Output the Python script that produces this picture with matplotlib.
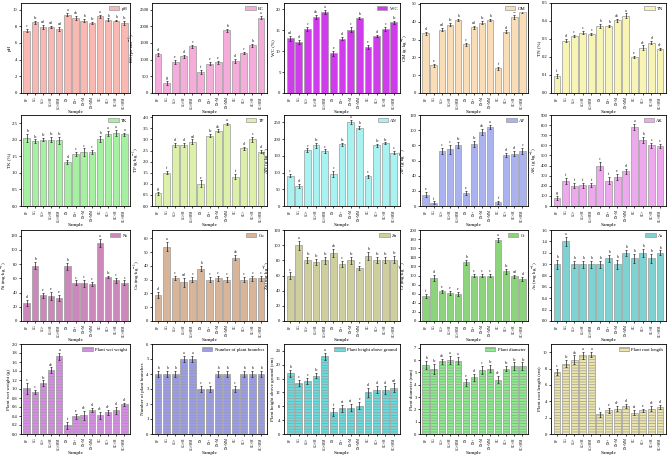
import matplotlib
matplotlib.use("Agg")
import matplotlib.pyplot as plt
import numpy as np

plt.rcParams['font.family'] = ['Liberation Serif', 'DejaVu Serif']
plt.rcParams['mathtext.fontset'] = 'stix'
plt.rcParams['hatch.color'] = 'white'
plt.rcParams['hatch.linewidth'] = 0.5

samples = ["BF", "CG", "CG+", "CG+M", "CG+MM", "DS", "DS+", "DS+M", "DS+MM",
           "GC", "GC+", "GC+M", "GC+MM"]

# ---- Row 1 ----
ph_val = [7.5, 8.5, 7.9, 7.9, 7.7, 9.4, 9.0, 8.7, 8.4, 9.2, 8.8, 8.7, 8.4]
ph_err = [0.2, 0.2, 0.25, 0.15, 0.2, 0.2, 0.2, 0.2, 0.15, 0.2, 0.15, 0.1, 0.2]
ph_let = ["c", "bc", "cd", "cd", "cd", "a", "ab", "b", "bc", "a", "b", "b", "bc"]

ec_val = [1160, 290, 930, 1100, 1400, 630, 880, 920, 1880, 960, 1200, 1430, 2260]
ec_err = [40, 60, 50, 40, 50, 70, 40, 40, 40, 50, 40, 40, 40]
ec_let = ["d", "g", "e", "d", "c", "f", "e", "e", "b", "d", "c", "b", "a"]

wc_val = [13.1, 12.2, 15.3, 18.2, 19.4, 9.5, 13.0, 15.1, 17.9, 11.0, 13.6, 15.3, 16.9]
wc_err = [0.6, 0.5, 0.4, 0.5, 0.5, 0.6, 0.3, 0.6, 0.3, 0.4, 0.3, 0.4, 0.4]
wc_let = ["cd", "d", "c", "ab", "a", "e", "d", "c", "b", "e", "d", "c", "bc"]

om_val = [33.5, 15.5, 35.5, 38.3, 41.0, 27.3, 36.8, 39.4, 41.0, 13.8, 34.3, 42.8, 45.5]
om_err = [0.8, 1.0, 0.8, 0.8, 0.8, 0.8, 1.0, 0.8, 0.8, 1.0, 0.8, 1.0, 0.8]
om_let = ["d", "e", "cd", "bc", "b", "c", "cd", "bc", "b", "f", "d", "ab", "a"]

tn_val = [0.095, 0.29, 0.315, 0.335, 0.33, 0.372, 0.372, 0.403, 0.43, 0.20, 0.252, 0.28, 0.245]
tn_err = [0.01, 0.008, 0.006, 0.008, 0.006, 0.01, 0.008, 0.008, 0.012, 0.006, 0.012, 0.01, 0.006]
tn_let = ["f", "d", "c", "c", "c", "b", "b", "ab", "a", "e", "de", "d", "de"]

# ---- Row 2 ----
tk_val = [2.05, 1.95, 2.0, 2.0, 1.98, 1.33, 1.57, 1.62, 1.62, 2.02, 2.19, 2.21, 2.17]
tk_err = [0.12, 0.06, 0.05, 0.08, 0.1, 0.07, 0.05, 0.12, 0.06, 0.1, 0.08, 0.08, 0.05]
tk_let = ["b", "bc", "bc", "bc", "bc", "d", "c", "c", "c", "b", "a", "a", "a"]

tp_val = [0.57, 1.5, 2.75, 2.75, 2.9, 1.0, 3.17, 3.4, 3.68, 1.32, 2.6, 3.0, 2.45]
tp_err = [0.08, 0.06, 0.08, 0.08, 0.1, 0.15, 0.08, 0.05, 0.05, 0.12, 0.08, 0.12, 0.08]
tp_let = ["g", "f", "d", "d", "cd", "e", "bc", "ab", "a", "f", "d", "c", "d"]

an_val = [91, 61, 167, 181, 164, 96, 184, 251, 234, 89, 181, 187, 159]
an_err = [4, 6, 5, 7, 5, 8, 5, 5, 4, 5, 4, 3, 5]
an_let = ["c", "d", "c", "bc", "c", "c", "bc", "a", "b", "c", "bc", "bc", "c"]

ap_val = [15, 4, 72, 75, 80, 17, 82, 97, 104, 5, 67, 69, 72]
ap_err = [3, 2, 4, 6, 4, 3, 4, 4, 3, 2, 3, 3, 4]
ap_let = ["e", "f", "c", "c", "bc", "e", "bc", "ab", "a", "f", "d", "d", "c"]

ak_val = [80, 245, 200, 205, 205, 400, 250, 290, 345, 780, 650, 600, 595]
ak_err = [20, 30, 25, 25, 20, 40, 35, 30, 25, 30, 30, 25, 20]
ak_let = ["g", "f", "f", "f", "f", "c", "f", "e", "d", "a", "b", "c", "c"]

# ---- Row 3 ----
ni_val = [25, 78, 36, 35, 32, 77, 54, 53, 52, 110, 62, 57, 54]
ni_err = [4, 5, 4, 6, 4, 5, 3, 5, 3, 6, 2, 3, 3]
ni_let = ["d", "b", "e", "e", "e", "b", "c", "c", "c", "a", "bc", "c", "c"]

cu_val = [19, 54, 31, 28, 30, 38, 30, 31, 30, 46, 30, 31, 31]
cu_err = [2, 3, 1.5, 3, 2, 2, 2, 2, 2, 2, 2, 2, 2]
cu_let = ["d", "a", "c", "cd", "c", "b", "c", "c", "c", "ab", "c", "c", "c"]

zn_val = [60, 100, 80, 78, 80, 90, 75, 80, 70, 86, 80, 80, 81]
zn_err = [4, 6, 4, 4, 5, 5, 4, 5, 3, 5, 4, 4, 5]
zn_let = ["c", "a", "bc", "bc", "bc", "ab", "c", "bc", "c", "b", "bc", "bc", "bc"]

cr_val = [55, 95, 65, 62, 60, 129, 100, 100, 100, 178, 109, 98, 92]
cr_err = [4, 6, 4, 4, 4, 6, 4, 4, 4, 5, 5, 4, 4]
cr_let = ["f", "d", "e", "e", "e", "b", "c", "c", "c", "a", "bc", "cd", "d"]

as_val = [1.0, 1.4, 1.0, 1.0, 1.0, 1.0, 1.1, 1.0, 1.2, 1.1, 1.2, 1.1, 1.2]
as_err = [0.08, 0.08, 0.06, 0.06, 0.06, 0.06, 0.06, 0.08, 0.05, 0.08, 0.07, 0.08, 0.04]
as_let = ["b", "a", "b", "b", "b", "b", "b", "b", "b", "b", "b", "b", "b"]

# ---- Row 4 ----
ww_val = [1.02, 0.93, 1.13, 1.42, 1.73, 0.19, 0.39, 0.42, 0.53, 0.42, 0.48, 0.53, 0.66]
ww_err = [0.12, 0.05, 0.06, 0.06, 0.08, 0.07, 0.05, 0.1, 0.04, 0.08, 0.05, 0.08, 0.03]
ww_let = ["c", "c", "bc", "ab", "a", "f", "e", "de", "d", "de", "de", "d", "d"]

nb_val = [4, 4, 4, 5, 5, 3, 3, 4, 4, 3, 4, 4, 4]
nb_err = [0.2, 0.2, 0.2, 0.2, 0.2, 0.2, 0.2, 0.2, 0.2, 0.2, 0.2, 0.2, 0.2]
nb_let = ["b", "b", "b", "a", "a", "c", "c", "b", "b", "c", "b", "b", "b"]

ph2_val = [17.5, 14.8, 15.3, 16.9, 22.5, 6.3, 7.4, 7.6, 8.2, 12.0, 12.8, 12.7, 13.4]
ph2_err = [0.9, 0.9, 0.8, 0.8, 1.0, 1.1, 0.9, 1.0, 1.0, 1.3, 1.0, 1.1, 1.2]
ph2_let = ["b", "c", "c", "bc", "a", "f", "ef", "ef", "e", "d", "d", "d", "cd"]

pd_val = [5.6, 5.3, 5.9, 6.0, 5.95, 4.2, 4.6, 5.2, 5.3, 4.4, 5.3, 5.5, 5.5]
pd_err = [0.3, 0.4, 0.2, 0.3, 0.3, 0.3, 0.3, 0.3, 0.3, 0.3, 0.2, 0.3, 0.3]
pd_let = ["b", "bc", "ab", "a", "a", "e", "d", "c", "bc", "de", "bc", "bc", "bc"]

rl_val = [7.6, 8.6, 9.1, 9.6, 9.7, 2.4, 2.9, 3.1, 3.4, 2.6, 2.9, 3.1, 3.3]
rl_err = [0.35, 0.4, 0.5, 0.4, 0.3, 0.3, 0.3, 0.3, 0.25, 0.3, 0.2, 0.3, 0.25]
rl_let = ["c", "bc", "ab", "a", "a", "f", "e", "de", "d", "ef", "e", "de", "d"]

panels = [
    # row 1
    dict(v=ph_val, e=ph_err, l=ph_let, name="pH", yl="pH", c="#F9B9B2", ylim=(0, 10.8), ticks=np.arange(0, 11, 2), fmt="{:.0f}", h=None),
    dict(v=ec_val, e=ec_err, l=ec_let, name="EC", yl="EC (μs·cm$^{-1}$)", c="#F6ACDB", ylim=(0, 2700), ticks=np.arange(0, 2501, 500), fmt="{:.0f}", h=None),
    dict(v=wc_val, e=wc_err, l=wc_let, name="WC", yl="WC (%)", c="#D03CEC", ylim=(0, 21.5), ticks=np.arange(0, 21, 5), fmt="{:.0f}", h=None),
    dict(v=om_val, e=om_err, l=om_let, name="OM", yl="OM (g·kg$^{-1}$)", c="#F8DDB6", ylim=(0, 50.5), ticks=np.arange(0, 51, 10), fmt="{:.0f}", h=None),
    dict(v=tn_val, e=tn_err, l=tn_let, name="TN", yl="TN (%)", c="#F8F4B4", ylim=(0, 0.5), ticks=np.arange(0, 0.51, 0.1), fmt="{:.1f}", h=None),
    # row 2
    dict(v=tk_val, e=tk_err, l=tk_let, name="TK", yl="TK (%)", c="#A6F0A2", ylim=(0, 2.75), ticks=np.arange(0, 2.51, 0.5), fmt="{:.1f}", h=None),
    dict(v=tp_val, e=tp_err, l=tp_let, name="TP", yl="TP (g·kg$^{-1}$)", c="#DDF0AA", ylim=(0, 4.1), ticks=np.arange(0, 4.01, 0.5), fmt="{:.1f}", h=None),
    dict(v=an_val, e=an_err, l=an_let, name="AN", yl="AN (g·kg$^{-1}$)", c="#A8F2F2", ylim=(0, 272), ticks=np.arange(0, 251, 50), fmt="{:.0f}", h=None),
    dict(v=ap_val, e=ap_err, l=ap_let, name="AP", yl="AP (g·kg$^{-1}$)", c="#AAB2F0", ylim=(0, 120), ticks=np.arange(0, 121, 20), fmt="{:.0f}", h=None),
    dict(v=ak_val, e=ak_err, l=ak_let, name="AK", yl="AK (g·kg$^{-1}$)", c="#EEA8EE", ylim=(0, 900), ticks=np.arange(0, 901, 100), fmt="{:.0f}", h=None),
    # row 3
    dict(v=ni_val, e=ni_err, l=ni_let, name="Ni", yl="Ni (mg·kg$^{-1}$)", c="#CC88BB", ylim=(0, 128), ticks=np.arange(0, 121, 20), fmt="{:.0f}", h=None),
    dict(v=cu_val, e=cu_err, l=cu_let, name="Cu", yl="Cu (mg·kg$^{-1}$)", c="#D8B498", ylim=(0, 66), ticks=np.arange(0, 61, 10), fmt="{:.0f}", h=None),
    dict(v=zn_val, e=zn_err, l=zn_let, name="Zn", yl="Zn (mg·kg$^{-1}$)", c="#CFCF9E", ylim=(0, 120), ticks=np.arange(0, 121, 20), fmt="{:.0f}", h=None),
    dict(v=cr_val, e=cr_err, l=cr_let, name="Cr", yl="Cr (mg·kg$^{-1}$)", c="#8CD47C", ylim=(0, 200), ticks=np.arange(0, 201, 20), fmt="{:.0f}", h=None),
    dict(v=as_val, e=as_err, l=as_let, name="As", yl="As (mg·kg$^{-1}$)", c="#7FD2D2", ylim=(0, 1.6), ticks=np.arange(0, 1.61, 0.2), fmt="{:.1f}", h=None),
    # row 4
    dict(v=ww_val, e=ww_err, l=ww_let, name="Plant wet weight", yl="Plant wet weight (g)", c="#DD88EE", ylim=(0, 2.0), ticks=np.arange(0, 2.01, 0.2), fmt="{:.1f}", h="------"),
    dict(v=nb_val, e=nb_err, l=nb_let, name="Number of plant branches", yl="Number of plant branches", c="#9A9CEE", ylim=(0, 6), ticks=np.arange(0, 7, 1), fmt="{:.0f}", h="------"),
    dict(v=ph2_val, e=ph2_err, l=ph2_let, name="Plant height above ground", yl="Plant height above ground (cm)", c="#66DCDC", ylim=(0, 26), ticks=np.arange(0, 25, 4), fmt="{:.0f}", h="------"),
    dict(v=pd_val, e=pd_err, l=pd_let, name="Plant diameter", yl="Plant diameter (mm)", c="#88EE88", ylim=(0, 7.3), ticks=np.arange(0, 8, 1), fmt="{:.0f}", h="------"),
    dict(v=rl_val, e=rl_err, l=rl_let, name="Plant root length", yl="Plant root length (cm)", c="#EEE6A8", ylim=(0, 11), ticks=np.arange(0, 11, 2), fmt="{:.0f}", h="------"),
]

W, H = 669, 457
fig = plt.figure(figsize=(W / 100, H / 100), dpi=100)

lefts = [21, 152, 284, 420, 551]
rights = [130, 267, 400, 528, 666]
rows = [(3, 93), (115, 206), (230, 321), (344, 434)]

fs_tick = 3.3
fs_lab = 3.6
fs_x = 2.4
fs_let = 2.8
for i, p in enumerate(panels):
    r, c = divmod(i, 5)
    x0, x1 = lefts[c], rights[c]
    yt, yb = rows[r]
    ax = fig.add_axes([x0 / W, 1 - yb / H, (x1 - x0) / W, (yb - yt) / H])
    x = np.arange(len(samples))
    ax.bar(x, p["v"], width=0.8, color=p["c"], edgecolor="#9a9a9a", linewidth=0.5,
           hatch=p["h"], label=p["name"])
    ax.errorbar(x, p["v"], yerr=p["e"], fmt="none", ecolor="#222222", elinewidth=0.5,
                capsize=1.0, capthick=0.5)
    span = p["ylim"][1] - p["ylim"][0]
    for xi, v, e, l in zip(x, p["v"], p["e"], p["l"]):
        ax.text(xi, v + e + span * 0.01, l, ha="center", va="bottom", fontsize=fs_let)
    ax.set_xlim(-0.7, len(samples) - 0.3)
    ax.set_ylim(*p["ylim"])
    ax.set_yticks(p["ticks"])
    ax.set_yticklabels([p["fmt"].format(t) for t in p["ticks"]], fontsize=fs_tick)
    ax.set_xticks(x)
    ax.set_xticklabels(samples, rotation=90, fontsize=fs_x)
    ax.tick_params(axis="both", length=1.5, width=0.5, pad=1)
    ax.set_ylabel(p["yl"], fontsize=fs_lab, labelpad=0.8)
    ax.set_xlabel("Sample", fontsize=3.9, labelpad=0.8)
    for s in ax.spines.values():
        s.set_linewidth(0.6)
    leg = ax.legend(loc="upper right", fontsize=3.4, frameon=True, fancybox=False,
                    edgecolor="white", facecolor="white", framealpha=1.0,
                    handlelength=2.2, handleheight=1.1,
                    borderpad=0.25, handletextpad=0.5, borderaxespad=0.35)
    leg.get_frame().set_linewidth(0.3)

fig.savefig("out.png", dpi=100)
